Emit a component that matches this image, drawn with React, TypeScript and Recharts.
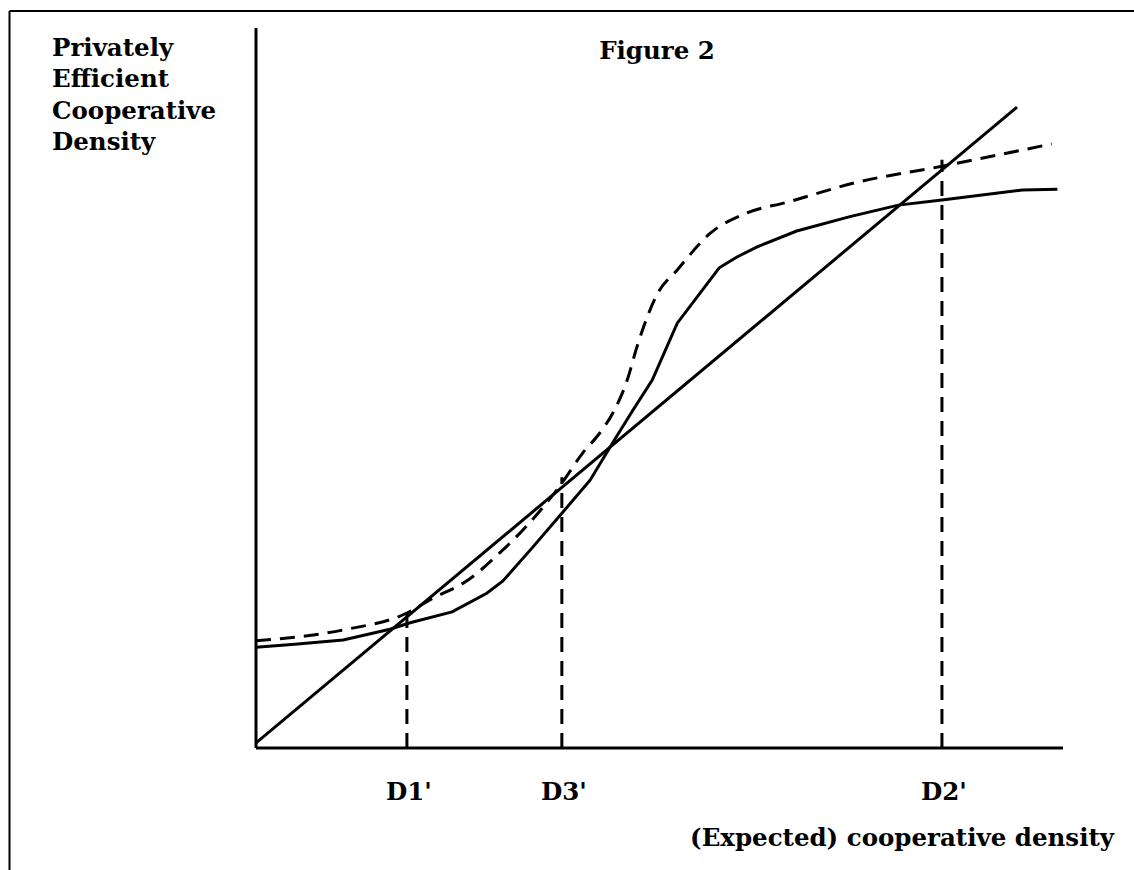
import { LineChart, Line, XAxis, YAxis } from 'recharts';

// diagonal line (expected = actual)
const diagonal = [
  { x: 0, y: 0.7 },
  { x: 94.3, y: 89.0 },
];

// solid S-shaped curve
const solidX = [0, 4.8, 10.8, 16.6, 19.1, 24.3, 28.6, 30.6, 34.3, 37.9, 41.4, 44.2, 46.7, 49.1, 52.2, 57.4, 59.6, 62.1, 67.0, 73.6, 79.6, 85.0, 95.0, 99.3];
const solidY = [14.0, 14.4, 15.0, 16.5, 17.4, 18.9, 21.5, 23.2, 27.9, 32.6, 37.2, 42.4, 46.9, 51.1, 59.0, 66.7, 68.2, 69.6, 71.8, 73.8, 75.4, 76.1, 77.5, 77.6];

// dashed S-shaped curve
const dashedX = [0, 10.8, 18.7, 21.6, 26.5, 30.2, 33.6, 37.9, 40.5, 42.6, 44.2, 46.0, 47.2, 49.8, 52.2, 56.3, 60.8, 65.8, 74.2, 85.0, 98.6];
const dashedY = [14.9, 16.4, 18.75, 20.6, 23.5, 27.1, 30.9, 36.8, 41.0, 43.75, 46.5, 51.1, 55.7, 63.2, 66.4, 71.5, 74.3, 75.8, 78.5, 80.8, 83.9];

// equilibrium drop lines
const eqX = [18.7, 37.9, 85.0];
const eqTop = [19.0, 37.6, 81.7];
const eqLabels = ["D1'", "D3'", "D2'"];

const yLabelLines = ['Privately', 'Efficient', 'Cooperative', 'Density'];

const solid = solidX.map((x, i) => ({ x, y: solidY[i] }));
const dashed = dashedX.map((x, i) => ({ x, y: dashedY[i] }));

const FONT = 'DejaVu Serif';
const FS = 24.5;

const EqTick = ({ x, y, payload }: any) => {
  const i = eqX.indexOf(payload.value);
  return (
    <text x={x + 2} y={y + 52} textAnchor="middle" fill="#000" fontFamily={FONT} fontSize={FS} fontWeight="bold">
      {eqLabels[i]}
    </text>
  );
};

export default function App() {
  return (
    <div style={{ position: 'absolute', left: 0, top: 0, width: 1134, height: 870, background: '#fff', overflow: 'hidden' }}>
      <LineChart
        width={1134}
        height={870}
        margin={{ top: 28, right: 71, bottom: 62, left: 246 }}
      >
        <XAxis
          type="number"
          dataKey="x"
          domain={[0, 100]}
          allowDataOverflow
          ticks={eqX}
          interval={0}
          height={60}
          tickSize={0}
          tickMargin={0}
          tickLine={false}
          axisLine={{ stroke: '#000', strokeWidth: 3 }}
          tick={<EqTick />}
        />
        <YAxis
          type="number"
          domain={[0, 100]}
          allowDataOverflow
          width={10}
          ticks={[]}
          tick={false}
          tickLine={false}
          axisLine={{ stroke: '#000', strokeWidth: 3 }}
        />
        {eqX.map((x, i) => (
          <Line
            key={`eq-${i}`}
            data={[{ x, y: 0 }, { x, y: eqTop[i] }]}
            dataKey="y"
            type="linear"
            stroke="#000"
            strokeWidth={3}
            strokeDasharray="15 9"
            dot={false}
            activeDot={false}
            isAnimationActive={false}
          />
        ))}
        <Line data={diagonal} dataKey="y" type="linear" stroke="#000" strokeWidth={3} dot={false} activeDot={false} isAnimationActive={false} />
        <Line data={solid} dataKey="y" type="linear" stroke="#000" strokeWidth={3} dot={false} activeDot={false} isAnimationActive={false} />
        <Line data={dashed} dataKey="y" type="monotone" stroke="#000" strokeWidth={3} strokeDasharray="15 9" dot={false} activeDot={false} isAnimationActive={false} />
      </LineChart>
      <svg width={1134} height={870} style={{ position: 'absolute', left: 0, top: 0, pointerEvents: 'none' }}>
        <line x1={9.5} y1={11} x2={1134} y2={11} stroke="#000" strokeWidth={2} />
        <line x1={9.5} y1={11} x2={9.5} y2={870} stroke="#000" strokeWidth={2} />
        <text x={657} y={59} textAnchor="middle" fill="#000" fontFamily={FONT} fontSize={FS} fontWeight="bold">Figure 2</text>
        {yLabelLines.map((t, i) => (
          <text key={t} x={52} y={56 + i * 31.3} fill="#000" fontFamily={FONT} fontSize={FS} fontWeight="bold">{t}</text>
        ))}
        <text x={1114} y={846} textAnchor="end" fill="#000" fontFamily={FONT} fontSize={FS} fontWeight="bold">(Expected) cooperative density</text>
      </svg>
    </div>
  );
}
